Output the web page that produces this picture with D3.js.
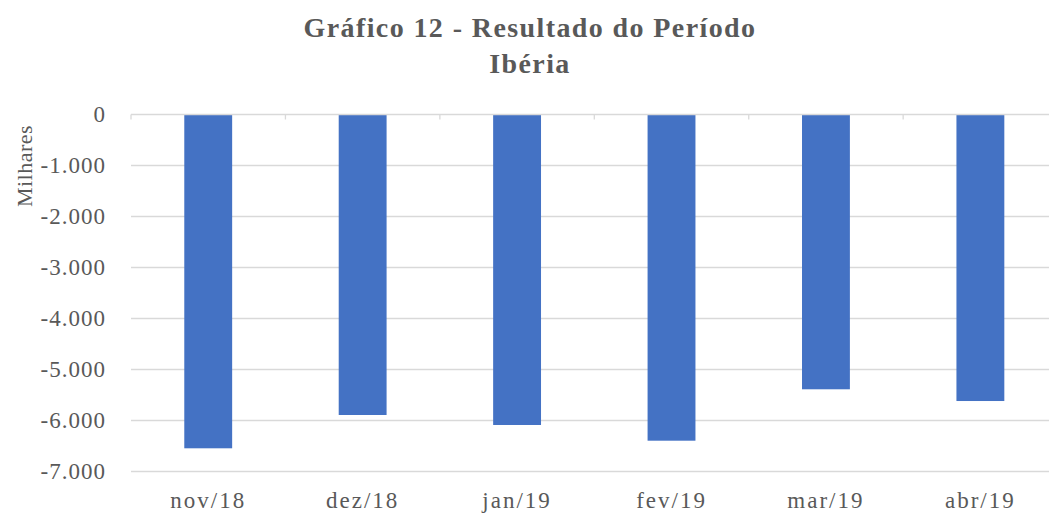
<!DOCTYPE html>
<html>
<head>
<meta charset="utf-8">
<script src="https://cdn.jsdelivr.net/npm/d3@7"></script>
<style>
  body { margin: 0; background: #fff; }
  svg { display: block; font-family: "Liberation Serif", "DejaVu Serif", serif; }
</style>
</head>
<body>
<div id="chart"></div>
<script>
const categories = ['nov/18', 'dez/18', 'jan/19', 'fev/19', 'mar/19', 'abr/19'];
const resultado = [-6545, -5892, -6088, -6396, -5388, -5618];
const yTicks = [0, -1000, -2000, -3000, -4000, -5000, -6000, -7000];
const titleLines = ['Gráfico 12 - Resultado do Período', 'Ibéria'];
const yLabel = 'Milhares';

const width = 1049;
const height = 515;
const margin = {top: 114.5, right: -8.6, bottom: 43.5, left: 131};

const svg = d3.select('#chart').append('svg')
  .attr('width', width)
  .attr('height', height);

const locale = d3.formatLocale({decimal: ',', thousands: '.', grouping: [3], currency: ['', ''], minus: '-'});
const fmt = locale.format(',d');

const xScale = d3.scaleBand().domain(categories)
  .range([margin.left, width - margin.right])
  .paddingInner(0.69).paddingOuter(0.345);
const yScale = d3.scaleLinear().domain([0, -7000]).range([margin.top, height - margin.bottom]);

// gridlines
svg.append('g').selectAll('line').data(yTicks.slice(1)).enter().append('line')
  .attr('x1', margin.left).attr('x2', width)
  .attr('y1', d => yScale(d)).attr('y2', d => yScale(d))
  .attr('stroke', '#d9d9d9').attr('stroke-width', 1.3);

// bars
svg.append('g').selectAll('rect').data(resultado).enter().append('rect')
  .attr('x', (d, i) => xScale(categories[i]))
  .attr('width', xScale.bandwidth())
  .attr('y', yScale(0))
  .attr('height', d => yScale(d) - yScale(0))
  .attr('fill', '#4472c4');

// category axis at zero, ticks between categories
const step = xScale.step();
const boundaries = d3.range(categories.length + 1).map(i => margin.left + i * step);
svg.append('line')
  .attr('x1', margin.left).attr('x2', width)
  .attr('y1', yScale(0)).attr('y2', yScale(0))
  .attr('stroke', '#d9d9d9').attr('stroke-width', 1.3);
svg.append('g').selectAll('line').data(boundaries).enter().append('line')
  .attr('x1', d => d).attr('x2', d => d)
  .attr('y1', yScale(0)).attr('y2', yScale(0) + 5)
  .attr('stroke', '#d9d9d9').attr('stroke-width', 1.3);

// y axis labels
const yAxis = d3.axisLeft(yScale).tickValues(yTicks).tickFormat(fmt).tickSize(0).tickPadding(25);
const yG = svg.append('g').attr('transform', 'translate(' + margin.left + ',0)').call(yAxis);
yG.select('.domain').remove();
yG.selectAll('text').attr('font-size', 23).attr('fill', '#595959')
  .attr('letter-spacing', 1)
  .attr('font-family', '"Liberation Serif", serif');

// category labels
svg.append('g').selectAll('text').data(categories).enter().append('text')
  .text(d => d)
  .attr('x', d => xScale(d) + xScale.bandwidth() / 2)
  .attr('y', 508)
  .attr('text-anchor', 'middle')
  .attr('letter-spacing', 2)
  .attr('font-size', 23).attr('fill', '#595959');

// y axis title
svg.append('text').text(yLabel)
  .attr('transform', 'translate(32,166) rotate(-90)')
  .attr('text-anchor', 'middle')
  .attr('letter-spacing', 0.5)
  .attr('font-size', 22).attr('fill', '#595959');

// title
svg.append('g').selectAll('text').data(titleLines).enter().append('text')
  .text(d => d)
  .attr('x', 530)
  .attr('y', (d, i) => 37 + i * 36)
  .attr('text-anchor', 'middle')
  .attr('letter-spacing', 1.4)
  .attr('font-size', 28).attr('font-weight', 'bold').attr('fill', '#595959');
</script>
</body>
</html>
